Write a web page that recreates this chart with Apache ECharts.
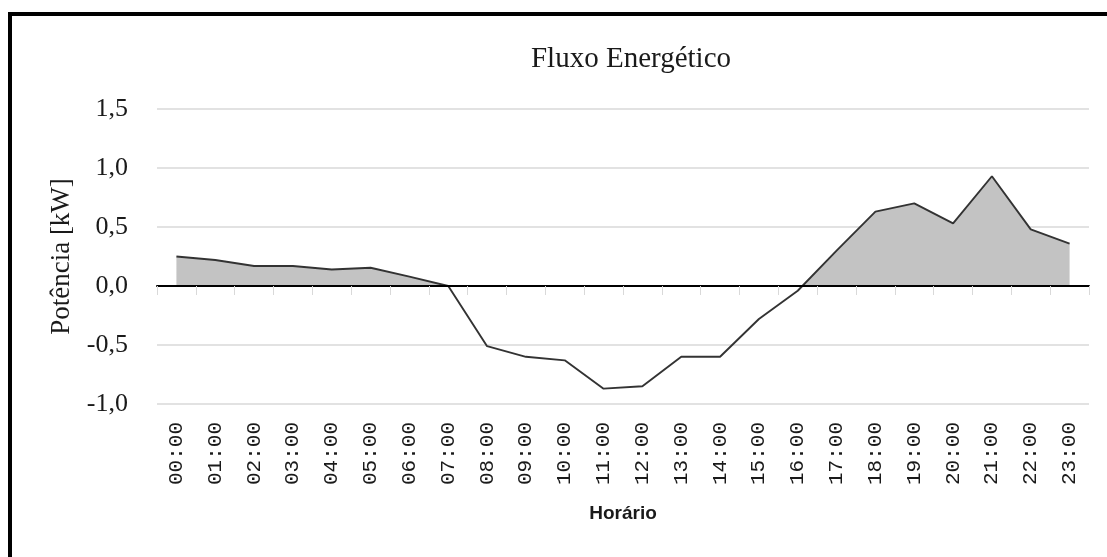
<!DOCTYPE html>
<html>
<head>
<meta charset="utf-8">
<script src="https://cdn.jsdelivr.net/npm/echarts@6/dist/echarts.min.js"></script>
<style>
html,body{margin:0;padding:0;background:#fff;}
#chart{width:1107px;height:557px;}
</style>
</head>
<body>
<div id="chart"></div>
<script>
var hours = ['00:00','01:00','02:00','03:00','04:00','05:00','06:00','07:00','08:00','09:00','10:00','11:00',
             '12:00','13:00','14:00','15:00','16:00','17:00','18:00','19:00','20:00','21:00','22:00','23:00'];
var power = [0.25, 0.22, 0.17, 0.17, 0.14, 0.155, 0.08, 0.0, -0.51, -0.60, -0.63, -0.87,
             -0.85, -0.60, -0.60, -0.28, -0.04, 0.30, 0.63, 0.70, 0.53, 0.93, 0.48, 0.36];
var yTicks = [-1.0, -0.5, 0.0, 0.5, 1.0, 1.5];
var titleText = 'Fluxo Energético';
var yName = 'Potência [kW]';
var xName = 'Horário';

var chart = echarts.init(document.getElementById('chart'), null, {renderer: 'canvas'});
var serif = '"Liberation Serif", "Times New Roman", serif';
chart.setOption({
  backgroundColor: '#fff',
  animation: false,
  title: {
    text: titleText,
    left: 626, top: 40,
    textAlign: 'center',
    textStyle: {fontFamily: serif, fontSize: 29, fontWeight: 'normal', color: '#1a1a1a'}
  },
  graphic: [{
    type: 'rect', silent: true, z: 100,
    shape: {x: 10, y: 14, width: 1300, height: 700},
    style: {fill: 'none', stroke: '#000', lineWidth: 4}
  }],
  grid: {left: 157, right: 18, top: 109, bottom: 153, containLabel: false},
  xAxis: [{
    type: 'category', data: hours, position: 'bottom', boundaryGap: true,
    axisLine: {show: true, onZero: true, lineStyle: {color: '#000', width: 2}},
    axisTick: {show: true, length: 9, interval: 0, lineStyle: {color: '#d9d9d9', width: 1}},
    axisLabel: {show: false},
    splitLine: {show: false}, z: 5
  }, {
    type: 'category', data: hours, position: 'bottom', boundaryGap: true,
    axisLine: {show: false, onZero: false},
    axisTick: {show: false},
    axisLabel: {show: true, interval: 0, rotate: 90, margin: 18,
      fontFamily: '"Liberation Mono", "DejaVu Sans Mono", monospace', fontSize: 21, color: '#1a1a1a'},
    name: xName, nameLocation: 'middle', nameGap: 100,
    nameTextStyle: {fontFamily: '"Liberation Sans", Arial, sans-serif', fontSize: 19, fontWeight: 'bold', color: '#1a1a1a'}
  }],
  yAxis: {
    type: 'value', min: yTicks[0], max: yTicks[yTicks.length - 1], interval: 0.5,
    axisLine: {show: false}, axisTick: {show: false},
    splitLine: {show: true, lineStyle: {color: '#d9d9d9', width: 1.5}},
    axisLabel: {margin: 29, fontFamily: serif, fontSize: 26, color: '#1a1a1a',
      formatter: function (v) { return v.toFixed(1).replace('.', ','); }},
    name: yName, nameLocation: 'middle', nameGap: 82, nameRotate: 90,
    nameTextStyle: {fontFamily: serif, fontSize: 27, color: '#1a1a1a'}
  },
  series: [{
    type: 'line', data: power, xAxisIndex: 0, yAxisIndex: 0,
    symbol: 'none', smooth: false,
    lineStyle: {color: '#333333', width: 1.9},
    areaStyle: {opacity: 1, origin: 0, color: '#c3c3c3'},
    z: 3
  }]
});

// Fill only the positive part: hard-stop gradient at the zero line (pixel from the axis scale)
var zeroPx = chart.convertToPixel({yAxisIndex: 0}, 0);
var topPx = chart.convertToPixel({yAxisIndex: 0}, yTicks[yTicks.length - 1]);
var botPx = chart.convertToPixel({yAxisIndex: 0}, yTicks[0]);
var f = (zeroPx - topPx) / (botPx - topPx);
chart.setOption({
  series: [{
    areaStyle: {
      opacity: 1, origin: 0,
      color: new echarts.graphic.LinearGradient(0, topPx, 0, botPx, [
        {offset: 0, color: '#c3c3c3'},
        {offset: f, color: '#c3c3c3'},
        {offset: f, color: 'rgba(255,255,255,0)'},
        {offset: 1, color: 'rgba(255,255,255,0)'}
      ], true)
    }
  }]
});
</script>
</body>
</html>
